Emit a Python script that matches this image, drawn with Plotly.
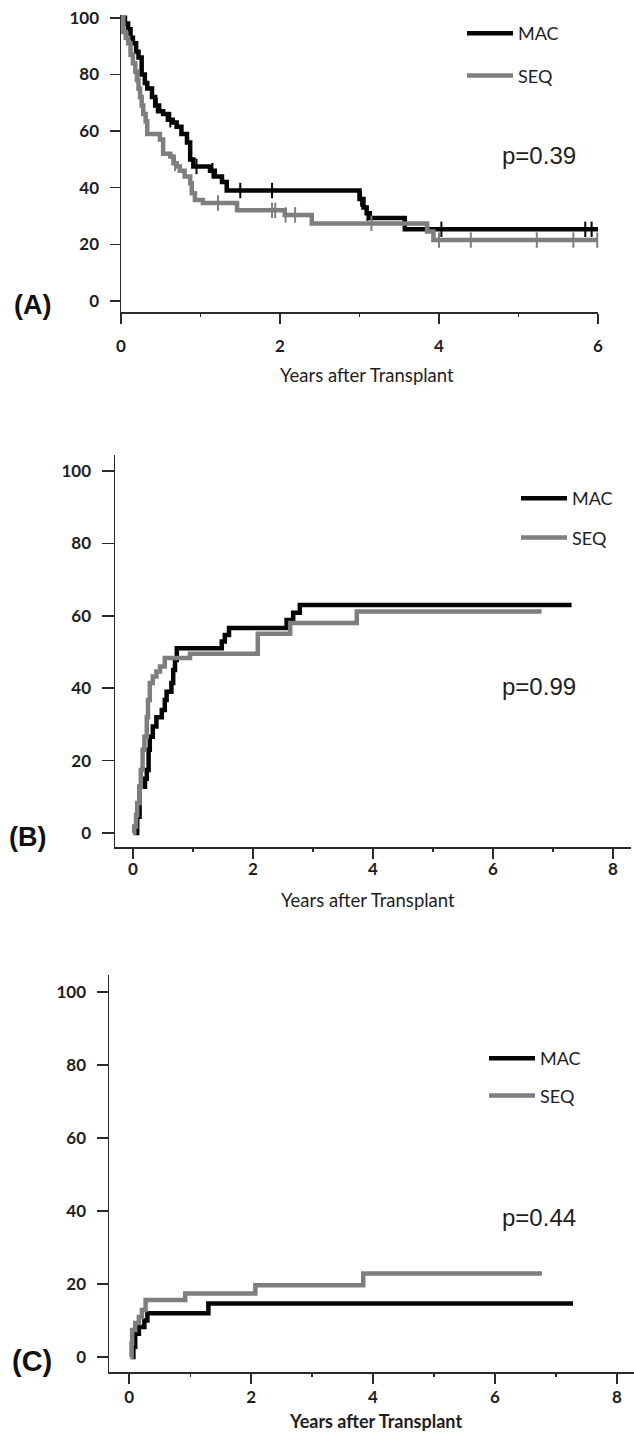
import plotly.graph_objects as go

W, H = 634, 1434

# ---------------- data ----------------
series_names = ["MAC", "SEQ"]
p_values = ["p=0.39", "p=0.99", "p=0.44"]
panel_labels = ["(A)", "(B)", "(C)"]
x_title = "Years after Transplant"
y_ticks = [0, 20, 40, 60, 80, 100]
x_ticks_a = [0, 2, 4, 6]
x_ticks_bc = [0, 2, 4, 6, 8]

# Panel A (survival, %)
a_mac_t = [0, 0.05, 0.09, 0.12, 0.15, 0.19, 0.22, 0.26, 0.30, 0.33, 0.39, 0.43, 0.48, 0.53, 0.59,
           0.65, 0.70, 0.76, 0.83, 0.87, 0.91, 1.12, 1.18, 1.27, 1.33, 3.00, 3.05, 3.09, 3.13, 3.57, 6.0]
a_mac_v = [100, 98, 96, 93, 91, 88, 86, 80, 77, 75, 72, 69, 67, 66, 64,
           63, 61.5, 59, 56, 50, 47.5, 46, 44, 42, 39, 36, 33, 31, 29.3, 25.3, 25.3]
a_seq_t = [0, 0.03, 0.06, 0.09, 0.12, 0.15, 0.18, 0.20, 0.22, 0.24, 0.26, 0.28, 0.31, 0.33,
           0.49, 0.53, 0.62, 0.66, 0.70, 0.74, 0.80, 0.87, 0.89, 0.93,
           1.03, 1.46, 2.06, 2.40, 3.85, 3.93, 6.0]
a_seq_v = [100, 95, 93, 91, 87, 84, 81, 78, 75, 72, 69, 66, 63.5, 59,
           57, 52, 51, 48.6, 47.5, 46, 44, 41.6, 38, 35.7,
           34.6, 32, 30.4, 27.4, 24.5, 21.5, 21.5]
a_mac_cens = [0.45, 0.62, 0.95, 1.15, 1.50, 1.90, 3.02, 3.10, 4.03, 5.84, 5.92]
a_seq_cens = [0.68, 1.22, 1.90, 1.94, 2.07, 2.19, 3.15, 4.00, 4.40, 5.23, 5.69, 5.99]

# Panel B (cumulative incidence, %)
b_mac_t = [0.03, 0.07, 0.11, 0.20, 0.23, 0.26, 0.28, 0.33, 0.39, 0.48, 0.53, 0.56, 0.64, 0.67,
           0.70, 0.73, 1.48, 1.53, 1.60, 2.56, 2.67, 2.78, 7.31]
b_mac_v = [0, 4.5, 12.8, 15, 17.4, 23, 26.6, 29.4, 32, 34, 36.7, 39, 41.4, 45,
           47.8, 51, 52.9, 54.7, 56.6, 58.8, 60.8, 63, 63]
b_seq_t = [0.0, 0.02, 0.05, 0.07, 0.11, 0.13, 0.16, 0.19, 0.23, 0.25, 0.28, 0.33, 0.39, 0.45,
           0.53, 0.95, 2.08, 2.62, 3.73, 6.81]
b_seq_v = [0, 1.8, 5, 8.3, 12.8, 17.4, 23, 26.6, 32, 36.7, 41.4, 43.2, 44.6, 46,
           48.3, 49.5, 55, 58, 61.2, 61.2]

# Panel C (cumulative incidence, %)
c_mac_t = [0.03, 0.07, 0.10, 0.16, 0.25, 0.30, 1.30, 7.28]
c_mac_v = [0, 2.8, 6.4, 8.2, 10, 12, 14.7, 14.7]
c_seq_t = [0.02, 0.04, 0.05, 0.10, 0.16, 0.21, 0.27, 0.92, 2.07, 3.84, 6.77]
c_seq_v = [0, 3.8, 7.4, 9.3, 11, 12.9, 15.6, 17.4, 19.7, 22.9, 22.9]

# ---------------- styling ----------------
BLACK = "#050505"
GREY = "#7e7e7e"
AXIS = "#2a2a2a"
LW = 4.5


def fx(px):
    return px / W


def fy(py):
    return 1 - py / H


def step_at(ts, vs, t):
    val = vs[0]
    for ti, vi in zip(ts, vs):
        if ti <= t:
            val = vi
    return val


fig = go.Figure()

panels = [
    dict(xa="x", ya="y", leg="legend",
         curves=[(a_mac_t, a_mac_v, BLACK, a_mac_cens), (a_seq_t, a_seq_v, GREY, a_seq_cens)]),
    dict(xa="x2", ya="y2", leg="legend2",
         curves=[(b_mac_t, b_mac_v, BLACK, []), (b_seq_t, b_seq_v, GREY, [])]),
    dict(xa="x3", ya="y3", leg="legend3",
         curves=[(c_mac_t, c_mac_v, BLACK, []), (c_seq_t, c_seq_v, GREY, [])]),
]

for p in panels:
    for name, (ts, vs, col, cens) in zip(series_names, p["curves"]):
        fig.add_trace(go.Scatter(
            x=ts, y=vs, mode="lines", name=name,
            line=dict(color=col, width=LW, shape="hv"),
            xaxis=p["xa"], yaxis=p["ya"], legend=p["leg"],
            legendgroup=p["leg"] + name, showlegend=True, cliponaxis=False))
        if cens:
            fig.add_trace(go.Scatter(
                x=cens, y=[step_at(ts, vs, t) for t in cens], mode="markers",
                marker=dict(symbol="line-ns", size=11, line=dict(color=col, width=2)),
                xaxis=p["xa"], yaxis=p["ya"], showlegend=False, cliponaxis=False))

tickfont = dict(family="Lato", size=17, color="#1e1e1e", weight="bold")


def xaxis(domain, rng, ticks, anchor, standoff):
    return dict(domain=domain, range=rng, anchor=anchor, tickmode="array", tickvals=ticks,
                showline=True, linecolor=AXIS, linewidth=1.5, ticks="outside", ticklen=10,
                tickwidth=1.5, tickcolor=AXIS, showgrid=False, zeroline=False,
                tickfont=tickfont, ticklabelstandoff=standoff, automargin=False,
                minor=dict(tickmode="linear", tick0=0, dtick=1, ticks="outside", ticklen=3,
                           tickwidth=1.2, tickcolor=AXIS, showgrid=False))


def yaxis(domain, rng, anchor, ticklen):
    return dict(domain=domain, range=rng, anchor=anchor, tickmode="array", tickvals=y_ticks,
                showline=True, linecolor=AXIS, linewidth=1.5, ticks="outside", ticklen=ticklen,
                tickwidth=1.5, tickcolor=AXIS, showgrid=False, zeroline=False,
                tickfont=tickfont, ticklabelstandoff=7, automargin=False)


layout = dict(
    template="none",
    width=W, height=H, margin=dict(l=0, r=0, t=0, b=0, pad=0), autosize=False,
    paper_bgcolor="white", plot_bgcolor="white",
    font=dict(family="Lato", color="#1e1e1e"),
    xaxis=xaxis([fx(121), fx(598)], [0, 6], x_ticks_a, "y", 8),
    yaxis=yaxis([fy(312), fy(15)], [-3.9, 101], "x", 10),
    xaxis2=xaxis([fx(115), fx(631)], [-0.3, 8.3], x_ticks_bc, "y2", -4),
    yaxis2=yaxis([fy(847), fy(455)], [-3.87, 104.4], "x2", 12),
    xaxis3=xaxis([fx(109), fx(634)], [-0.33, 8.28], x_ticks_bc, "y3", -1),
    yaxis3=yaxis([fy(1372), fy(975)], [-4.1, 104.7], "x3", 11),
)

legend_pos = [(462, 15, 16), (516, 480, 13), (484, 1040, 11)]
for key, (lx, ly, gap) in zip(["legend", "legend2", "legend3"], legend_pos):
    layout[key] = dict(x=fx(lx), y=fy(ly), xanchor="left", yanchor="top",
                       bgcolor="rgba(0,0,0,0)", font=dict(family="Lato", size=18, color="#1e1e1e"),
                       itemwidth=46, tracegroupgap=gap, traceorder="grouped")

annotations = []
# p-values
for txt, (cx, cy) in zip(p_values, [(539, 155), (539, 686), (539, 1217)]):
    annotations.append(dict(text=txt, x=fx(cx), y=fy(cy), xref="paper", yref="paper",
                            showarrow=False, xanchor="center", yanchor="middle",
                            font=dict(family="Liberation Sans", size=24, color="#1e1e1e")))
# panel labels
for txt, (cx, cy, fs) in zip(panel_labels, [(32, 305, 27), (27, 837, 27), (32, 1361, 29)]):
    annotations.append(dict(text=txt, x=fx(cx), y=fy(cy), xref="paper", yref="paper",
                            showarrow=False, xanchor="center", yanchor="middle",
                            font=dict(family="Liberation Sans", size=fs, color="#111", weight="bold")))
# axis titles
for (cx, cy, wt, fs) in [(367, 375, "normal", 18.5), (368, 900, "normal", 18.5), (375, 1421, "bold", 18)]:
    annotations.append(dict(text=x_title, x=fx(cx), y=fy(cy), xref="paper", yref="paper",
                            showarrow=False, xanchor="center", yanchor="middle",
                            font=dict(family="Lato", size=fs, color="#1e1e1e", weight=wt)))
layout["annotations"] = annotations

fig.update_layout(**layout)
fig.write_html("out.html", config={"displayModeBar": False, "staticPlot": True},
               post_script="document.body.style.margin='0px';document.body.style.overflow='hidden';")
